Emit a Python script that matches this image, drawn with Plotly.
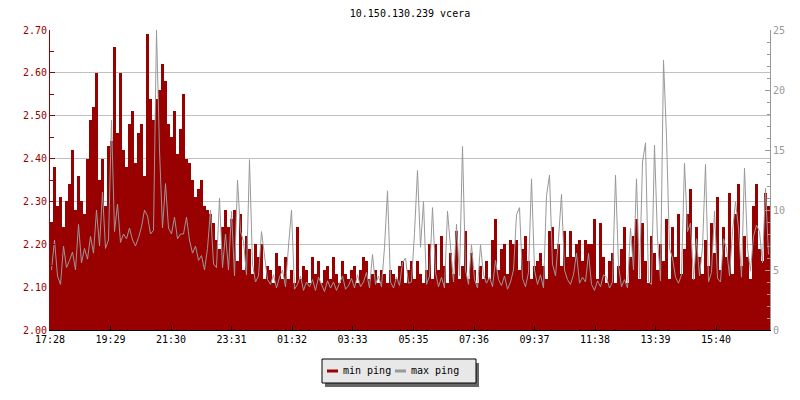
import plotly.graph_objects as go
from datetime import datetime, timedelta

# ---- data ----
title_text = "10.150.130.239 vcera"
series_names = ["min ping", "max ping"]
tick_labels = ["17:28", "19:29", "21:30", "23:31", "01:32", "03:33",
               "05:35", "07:36", "09:37", "11:38", "13:39", "15:40"]
sample_minutes = 6

min_ping = [
    2.25, 2.38, 2.29, 2.31, 2.24, 2.30, 2.34, 2.42, 2.28, 2.36,
    2.30, 2.27, 2.40, 2.49, 2.52, 2.60, 2.35, 2.40, 2.29, 2.43,
    2.44, 2.66, 2.46, 2.60, 2.42, 2.38, 2.48, 2.51, 2.39, 2.46,
    2.48, 2.36, 2.69, 2.54, 2.49, 2.54, 2.56, 2.62, 2.58, 2.48,
    2.45, 2.51, 2.41, 2.47, 2.55, 2.40, 2.39, 2.35, 2.31, 2.33,
    2.35, 2.29, 2.28, 2.27, 2.25, 2.21, 2.19, 2.24, 2.28, 2.24,
    2.26, 2.28, 2.16, 2.27, 2.14, 2.22, 2.19, 2.13, 2.20, 2.17,
    2.20, 2.12, 2.15, 2.14, 2.11, 2.18, 2.15, 2.12, 2.17, 2.12,
    2.14, 2.11, 2.24, 2.12, 2.15, 2.14, 2.11, 2.17, 2.13, 2.16,
    2.11, 2.14, 2.15, 2.12, 2.17, 2.13, 2.11, 2.16, 2.13, 2.12,
    2.14, 2.15, 2.11, 2.14, 2.17, 2.16, 2.12, 2.13, 2.14, 2.11,
    2.14, 2.13, 2.11, 2.14, 2.13, 2.12, 2.15, 2.16, 2.11, 2.14,
    2.16, 2.12, 2.16, 2.13, 2.11, 2.14, 2.20, 2.12, 2.20, 2.14,
    2.22, 2.15, 2.11, 2.18, 2.13, 2.23, 2.12, 2.15, 2.23, 2.12,
    2.18, 2.14, 2.11, 2.15, 2.12, 2.16, 2.12, 2.21, 2.26, 2.14,
    2.19, 2.20, 2.13, 2.21, 2.20, 2.21, 2.14, 2.19, 2.22, 2.16,
    2.12, 2.15, 2.16, 2.18, 2.15, 2.12, 2.23, 2.24, 2.19, 2.20,
    2.15, 2.23, 2.17, 2.23, 2.17, 2.20, 2.21, 2.16, 2.21, 2.20,
    2.20, 2.26, 2.12, 2.25, 2.17, 2.11, 2.16, 2.18, 2.11, 2.15,
    2.19, 2.24, 2.11, 2.17, 2.22, 2.26, 2.12, 2.25, 2.16, 2.11,
    2.22, 2.18, 2.14, 2.20, 2.16, 2.26, 2.12, 2.24, 2.17, 2.27,
    2.13, 2.19, 2.27, 2.33, 2.12, 2.24, 2.17, 2.13, 2.21, 2.15,
    2.25, 2.18, 2.31, 2.14, 2.24, 2.17, 2.32, 2.13, 2.27, 2.34,
    2.15, 2.22, 2.17, 2.12, 2.29, 2.34, 2.19, 2.16, 2.32, 2.29,
]

max_ping = [
    5.0, 7.5, 4.5, 3.8, 7.0, 5.2, 5.8, 6.5, 5.0, 8.8,
    5.6, 6.8, 5.9, 7.8, 6.4, 10.0, 7.0, 11.5, 6.8, 7.5,
    17.5, 8.2, 10.5, 7.3, 8.0, 7.6, 8.5, 7.5, 7.0, 7.7,
    8.6, 10.0, 9.5, 8.0, 8.3, 25.0, 15.0, 8.5, 12.2, 8.5,
    8.0, 9.4, 7.6, 8.0, 8.0, 9.4, 7.5, 6.4, 7.0, 5.8,
    6.2, 5.0, 6.8, 10.0, 5.5, 5.2, 11.0, 5.2, 8.0, 5.0,
    9.9, 4.5, 12.5, 8.2, 7.4, 4.6, 14.2, 5.5, 4.0, 4.5,
    8.2, 6.0, 4.2, 3.8, 4.6, 3.5, 4.4, 5.0, 3.6, 7.0,
    10.0, 3.4, 3.8, 4.5, 3.3, 4.0, 3.6, 4.2, 3.3, 4.4,
    3.8, 3.2, 4.1, 3.5, 4.0, 3.3, 3.9, 4.5, 3.4, 3.7,
    4.3, 3.5, 4.6, 3.6, 4.0, 4.8, 3.5, 6.3, 3.8, 4.5,
    3.6, 6.9, 11.6, 4.0, 3.5, 4.4, 3.7, 5.6, 6.0, 3.9,
    4.0, 8.1, 13.3, 6.9, 10.7, 3.8, 4.5, 10.2, 4.8, 3.6,
    4.4, 3.5, 9.9, 7.0, 4.0, 8.8, 4.5, 15.3, 5.0, 3.8,
    7.1, 4.2, 3.5, 7.1, 4.6, 3.9, 4.4, 3.6, 5.8, 4.2,
    3.7, 4.5, 3.4, 4.0, 5.0, 9.6, 10.2, 4.3, 3.6, 4.8,
    12.6, 5.0, 3.8, 4.6, 3.5, 11.2, 12.9, 5.5, 4.5, 7.6,
    11.3, 5.0, 4.2, 3.8, 4.6, 6.4, 3.9, 4.4, 4.0, 6.4,
    3.8, 3.3, 4.1, 3.6, 4.6, 4.4, 3.5, 4.0, 12.9, 5.4,
    3.6, 4.2, 3.5, 8.5, 5.0, 12.6, 4.3, 14.0, 15.6, 4.0,
    3.8, 15.4, 7.6, 4.1, 22.5, 16.1, 6.8, 6.0, 4.4, 3.9,
    4.6, 13.9, 8.2, 8.9, 4.2, 7.6, 4.5, 6.9, 13.8, 4.0,
    4.8, 9.9, 4.3, 4.0, 7.6, 6.8, 4.5, 8.2, 10.7, 8.5,
    4.4, 13.5, 6.8, 4.9, 7.8, 8.75, 8.2, 5.6, 11.8, 6.3,
]

# ---- time axis ----
start = datetime(2024, 1, 1, 17, 28)
times = [start + timedelta(minutes=sample_minutes * i + sample_minutes / 2)
         for i in range(len(min_ping))]
end = start + timedelta(minutes=sample_minutes * len(min_ping))

tick_vals = []
for lbl in tick_labels:
    h, m = map(int, lbl.split(":"))
    t = start.replace(hour=h, minute=m)
    if t < start:
        t += timedelta(days=1)
    tick_vals.append(t)

RED = "#990000"
GRAY = "#999999"
FONT = "DejaVu Sans Mono"

fig = go.Figure()
fig.add_trace(go.Bar(
    x=times, y=min_ping, width=sample_minutes * 60 * 1000,
    marker=dict(color=RED, line=dict(width=0)),
    name=series_names[0], yaxis="y", showlegend=False, hoverinfo="skip",
))
fig.add_trace(go.Scatter(
    x=times, y=max_ping, mode="lines",
    line=dict(color=GRAY, width=1),
    name=series_names[1], yaxis="y2", showlegend=False, hoverinfo="skip",
))

fig.update_layout(
    width=800, height=400,
    margin=dict(l=50, r=30, t=30, b=70),
    paper_bgcolor="white", plot_bgcolor="white",
    bargap=0,
    font=dict(family=FONT, size=10, color="black"),
    title=dict(text=title_text, x=0.5, xref="paper", xanchor="center",
               y=1 - 13 / 400, yanchor="middle",
               font=dict(family=FONT, size=10, color="black")),
    xaxis=dict(
        type="date", range=[start, end],
        showgrid=False, zeroline=False,
        showline=True, linecolor="black", linewidth=1,
        ticks="inside", ticklen=4, tickcolor="black",
        tickvals=tick_vals, ticktext=tick_labels,
        tickfont=dict(family=FONT, size=10, color="black"),
    ),
    yaxis=dict(
        range=[2.0, 2.7], dtick=0.1, tick0=2.0, tickformat=".2f",
        showgrid=True, gridcolor="#c0c0c0", gridwidth=1, zeroline=False,
        showline=True, linecolor=RED, linewidth=1,
        ticks="inside", ticklen=5, tickcolor=RED,
        tickfont=dict(family=FONT, size=10, color=RED),
        minor=dict(dtick=0.05, tick0=2.0, ticks="inside", ticklen=4,
                   tickcolor=RED, showgrid=False),
    ),
    yaxis2=dict(
        range=[0, 25], dtick=5, tick0=0, overlaying="y", side="right",
        showgrid=False, zeroline=False,
        showline=True, linecolor=GRAY, linewidth=1,
        ticks="inside", ticklen=5, tickcolor=GRAY,
        tickfont=dict(family=FONT, size=10, color=GRAY),
        minor=dict(dtick=1, tick0=0, ticks="inside", ticklen=3,
                   tickcolor=GRAY, showgrid=False),
    ),
)

# ---- legend box drawn at the bottom, like the reference ----
def px_x(p):
    return (p - 50) / 720.0

def px_y(p):
    return (330 - p) / 300.0

shapes = [
    dict(type="rect", xref="paper", yref="paper",
         x0=px_x(325), x1=px_x(479), y0=px_y(363), y1=px_y(387),
         fillcolor="#666666", line=dict(width=0), layer="above"),
    dict(type="rect", xref="paper", yref="paper",
         x0=px_x(322), x1=px_x(476), y0=px_y(359), y1=px_y(383),
         fillcolor="#e8e8e8", line=dict(color="black", width=1), layer="above"),
    dict(type="line", xref="paper", yref="paper",
         x0=px_x(327), x1=px_x(338), y0=px_y(371), y1=px_y(371),
         line=dict(color=RED, width=3), layer="above"),
    dict(type="line", xref="paper", yref="paper",
         x0=px_x(395), x1=px_x(406), y0=px_y(371), y1=px_y(371),
         line=dict(color=GRAY, width=3), layer="above"),
]
annotations = [
    dict(text=series_names[0], xref="paper", yref="paper",
         x=px_x(341), y=px_y(370), xanchor="left", yanchor="middle",
         showarrow=False, font=dict(family=FONT, size=10, color="black")),
    dict(text=series_names[1], xref="paper", yref="paper",
         x=px_x(409), y=px_y(370), xanchor="left", yanchor="middle",
         showarrow=False, font=dict(family=FONT, size=10, color="black")),
]
fig.update_layout(shapes=shapes, annotations=annotations)

# the page body normally has an 8px margin; remove it so the 800x400 figure
# sits at the top-left corner of the window like the reference image
fig.write_html("out.html",
               config={"displayModeBar": False},
               post_script="document.body.style.margin='0';")
